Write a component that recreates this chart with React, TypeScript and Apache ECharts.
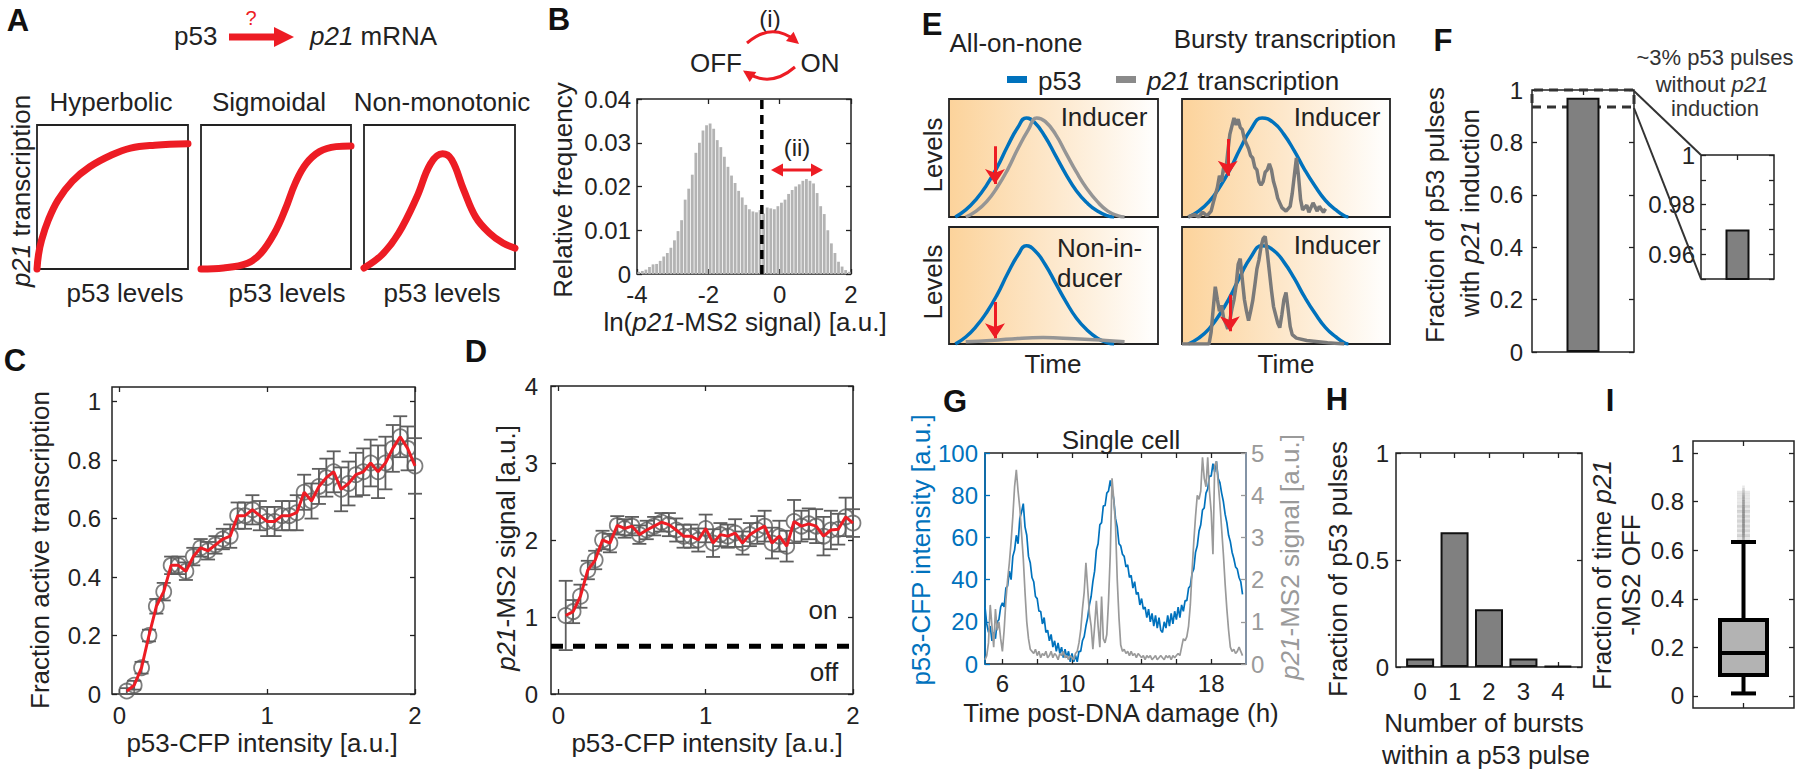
import React, { useEffect, useRef } from "react";
import * as echarts from "echarts";

// ================= DATA =================
// A: schematic dose-response curves (normalised p53 level -> p21 transcription)
const hyperbolicX = [0, 0.01, 0.03, 0.075, 0.14, 0.235, 0.35, 0.49, 0.62, 0.78, 1.0];
const hyperbolicY = [0, 0.1, 0.2, 0.34, 0.48, 0.61, 0.71, 0.79, 0.84, 0.86, 0.87];
const sigmoidalX = [0, 0.15, 0.31, 0.4, 0.49, 0.56, 0.63, 0.7, 0.79, 0.9, 1.0];
const sigmoidalY = [0, 0.007, 0.04, 0.11, 0.25, 0.41, 0.6, 0.73, 0.815, 0.85, 0.855];
const nonMonoX = [0, 0.12, 0.23, 0.35, 0.44, 0.52, 0.58, 0.66, 0.74, 0.83, 0.92, 1.0];
const nonMonoY = [0.007, 0.1, 0.25, 0.5, 0.73, 0.8, 0.76, 0.55, 0.36, 0.25, 0.18, 0.145];

// B: histogram of ln(p21-MS2 signal)
const histBinStart = -3.95;
const histBinWidth = 0.1;
const histFreq = [
  0.0005, 0.0007, 0.001, 0.0016, 0.0022, 0.0023, 0.003, 0.004, 0.0048, 0.006,
  0.0077, 0.0098, 0.0123, 0.017, 0.0195, 0.0227, 0.0277, 0.03, 0.0328, 0.034,
  0.0344, 0.0332, 0.0306, 0.029, 0.0268, 0.0245, 0.0225, 0.0208, 0.019, 0.0175,
  0.0158, 0.0148, 0.0143, 0.0141, 0.0146, 0.0138, 0.0152, 0.015, 0.0148, 0.0155,
  0.0163, 0.017, 0.0183, 0.0192, 0.02, 0.0205, 0.0213, 0.0217, 0.0213, 0.0207,
  0.0185, 0.0155, 0.0137, 0.01, 0.007, 0.0048, 0.0028, 0.0017, 0.0009, 0.0005,
];
const onOffThreshold = -0.5;

// C / D: binned p53-CFP intensity
const p53Bins = [
  0.05, 0.1, 0.15, 0.2, 0.25, 0.3, 0.35, 0.4, 0.45, 0.5,
  0.55, 0.6, 0.65, 0.7, 0.75, 0.8, 0.85, 0.9, 0.95, 1.0,
  1.05, 1.1, 1.15, 1.2, 1.25, 1.3, 1.35, 1.4, 1.45, 1.5,
  1.55, 1.6, 1.65, 1.7, 1.75, 1.8, 1.85, 1.9, 1.95, 2.0,
];
const fracActive = [
  0.01, 0.03, 0.09, 0.2, 0.3, 0.35, 0.44, 0.44, 0.42, 0.47,
  0.5, 0.49, 0.51, 0.53, 0.54, 0.61, 0.61, 0.63, 0.61, 0.59,
  0.59, 0.61, 0.61, 0.62, 0.69, 0.66, 0.71, 0.74, 0.76, 0.7,
  0.72, 0.75, 0.76, 0.79, 0.76, 0.79, 0.84, 0.88, 0.84, 0.78,
];
const fracActiveErr = [
  0.01, 0.015, 0.02, 0.02, 0.025, 0.03, 0.03, 0.03, 0.03, 0.03,
  0.03, 0.03, 0.03, 0.035, 0.04, 0.045, 0.045, 0.05, 0.05, 0.05,
  0.05, 0.05, 0.05, 0.06, 0.06, 0.06, 0.06, 0.065, 0.07, 0.075,
  0.075, 0.075, 0.08, 0.08, 0.09, 0.09, 0.08, 0.07, 0.075, 0.095,
];
const ms2Signal = [
  1.02, 1.07, 1.27, 1.61, 1.74, 2.0, 1.96, 2.19, 2.15, 2.18,
  2.07, 2.13, 2.18, 2.23, 2.2, 2.13, 2.05, 2.05, 2.0, 2.15,
  1.96, 2.07, 2.05, 2.09, 1.96, 2.07, 2.13, 2.18, 1.96, 2.05,
  1.92, 2.24, 2.18, 2.21, 2.18, 2.05, 2.13, 2.14, 2.3, 2.22,
];
const ms2SignalErr = [
  0.45, 0.15, 0.15, 0.12, 0.12, 0.12, 0.12, 0.12, 0.12, 0.12,
  0.12, 0.12, 0.12, 0.12, 0.15, 0.15, 0.15, 0.15, 0.15, 0.18,
  0.18, 0.15, 0.15, 0.18, 0.15, 0.15, 0.18, 0.2, 0.2, 0.2,
  0.2, 0.28, 0.2, 0.2, 0.22, 0.25, 0.25, 0.2, 0.25, 0.18,
];
const onThreshold = 0.62;

// E: schematic traces ([time, level] in normalised units)
const pulseAllOrNone = [
  [0.03, 0], [0.08, 0.06], [0.13, 0.15], [0.18, 0.27], [0.23, 0.42], [0.28, 0.6], [0.33, 0.76],
  [0.37, 0.84], [0.41, 0.8], [0.46, 0.68], [0.51, 0.52], [0.56, 0.36], [0.61, 0.22], [0.66, 0.12],
  [0.71, 0.05], [0.76, 0.01], [0.79, 0],
];
const p21AllOrNoneInducer = [
  [0.08, 0], [0.13, 0.05], [0.18, 0.13], [0.23, 0.25], [0.28, 0.4], [0.33, 0.58], [0.38, 0.74],
  [0.42, 0.84], [0.46, 0.81], [0.51, 0.7], [0.56, 0.54], [0.61, 0.38], [0.66, 0.24], [0.71, 0.13],
  [0.76, 0.05], [0.81, 0.01], [0.84, 0],
];
const p21AllOrNoneNonInducer = [
  [0.08, 0.02], [0.2, 0.03], [0.35, 0.05], [0.45, 0.055], [0.6, 0.045], [0.75, 0.03], [0.84, 0.02],
];
const pulseBursty = [
  [0.03, 0], [0.08, 0.05], [0.13, 0.13], [0.18, 0.25], [0.23, 0.4], [0.28, 0.58], [0.33, 0.74],
  [0.385, 0.84], [0.44, 0.8], [0.49, 0.7], [0.54, 0.56], [0.59, 0.4], [0.64, 0.26], [0.69, 0.14],
  [0.74, 0.06], [0.78, 0.01], [0.8, 0],
];
const p21BurstyA = [
  [0.03, 0], [0.06, 0.02], [0.08, 0], [0.1, 0.04], [0.12, 0.01], [0.14, 0.05], [0.15, 0.12],
  [0.17, 0.25], [0.18, 0.35], [0.19, 0.3], [0.2, 0.42], [0.21, 0.38], [0.22, 0.55], [0.23, 0.7],
  [0.25, 0.84], [0.26, 0.78], [0.27, 0.83], [0.28, 0.76], [0.29, 0.74], [0.3, 0.66], [0.31, 0.62],
  [0.32, 0.58], [0.33, 0.52], [0.34, 0.5], [0.35, 0.42], [0.36, 0.4], [0.37, 0.3], [0.38, 0.27],
  [0.39, 0.3], [0.4, 0.38], [0.41, 0.4], [0.42, 0.45], [0.43, 0.4], [0.44, 0.3], [0.45, 0.24],
  [0.46, 0.16], [0.47, 0.12], [0.48, 0.08], [0.5, 0.05], [0.52, 0.09], [0.53, 0.2], [0.54, 0.35],
  [0.55, 0.5], [0.56, 0.35], [0.57, 0.15], [0.58, 0.06], [0.6, 0.1], [0.61, 0.04], [0.63, 0.12],
  [0.65, 0.05], [0.66, 0.09], [0.68, 0.04], [0.69, 0.07],
];
const p21BurstyB = [
  [0, 0], [0.13, 0], [0.14, 0.1], [0.15, 0.3], [0.16, 0.49], [0.17, 0.38], [0.18, 0.28], [0.19, 0.33],
  [0.2, 0.22], [0.21, 0.18], [0.22, 0.13], [0.23, 0.2], [0.24, 0.3], [0.25, 0.38], [0.26, 0.5],
  [0.27, 0.68], [0.28, 0.73], [0.29, 0.55], [0.3, 0.38], [0.31, 0.28], [0.32, 0.2], [0.33, 0.28],
  [0.34, 0.37], [0.35, 0.5], [0.36, 0.64], [0.37, 0.72], [0.38, 0.83], [0.39, 0.9], [0.4, 0.92],
  [0.41, 0.78], [0.42, 0.62], [0.43, 0.46], [0.44, 0.32], [0.45, 0.25], [0.46, 0.18], [0.47, 0.14],
  [0.48, 0.25], [0.49, 0.38], [0.5, 0.44], [0.51, 0.3], [0.52, 0.15], [0.53, 0.08], [0.55, 0.05],
  [0.6, 0.03], [0.7, 0.01], [0.78, 0],
];
const arrowAllOrNoneInducer = [[0.22, 0.6], [0.22, 0.28]];
const arrowAllOrNoneNon = [[0.22, 0.36], [0.22, 0.05]];
const arrowBurstyA = [[0.22, 0.66], [0.22, 0.35]];
const arrowBurstyB = [[0.23, 0.42], [0.23, 0.11]];

// F
const fracWithInduction = 0.97;
const zoomWindow = [0.935, 1.0];

// G: single-cell traces, sampled every 0.1 h from 5 h
const gStart = 5;
const gStep = 0.1;
const p53Trace = [
  27, 19, 15, 18, 11, 15, 12, 20, 21, 27,
  29, 27, 36, 37, 44, 40, 51, 54, 61, 57,
  69, 72, 76, 65, 61, 51, 48, 41, 39, 32,
  31, 25, 25, 19, 22, 15, 16, 11, 14, 8,
  11, 6, 10, 5, 8, 3, 7, 3, 6, 1,
  5, 1, 4, 1, 6, 6, 11, 13, 18, 22,
  28, 32, 39, 44, 54, 57, 66, 67, 75, 75,
  81, 82, 87, 83, 78, 69, 65, 57, 56, 52,
  51, 46, 47, 41, 42, 36, 39, 33, 34, 28,
  31, 26, 27, 22, 26, 20, 24, 18, 23, 17,
  22, 16, 15, 20, 17, 23, 18, 24, 19, 25,
  21, 27, 22, 28, 25, 30, 30, 36, 37, 43,
  45, 53, 56, 63, 66, 73, 74, 81, 83, 89,
  89, 95, 91, 96, 88, 86, 81, 77, 71, 67,
  61, 58, 53, 50, 46, 45, 41, 39, 33,
];
const p21Trace = [
  0.1, 0.2, 0.5, 1.4, 0.9, 0.4, 1.3, 0.8, 1.0, 0.6,
  0.3, 0.8, 1.5, 2.0, 2.4, 2.9, 3.5, 4.2, 4.6, 4.1,
  3.7, 3.1, 2.5, 1.7, 1.0, 0.6, 0.35, 0.3, 0.25, 0.35,
  0.2, 0.3, 0.15, 0.25, 0.2, 0.3, 0.15, 0.2, 0.3, 0.15,
  0.25, 0.2, 0.1, 0.25, 0.2, 0.3, 0.15, 0.2, 0.1, 0.2,
  0.15, 0.1, 0.25, 0.3, 0.5, 0.8, 1.3, 1.7, 2.4, 1.8,
  1.2, 0.9, 0.35, 0.9, 1.5, 0.9, 0.4, 1.6, 0.6, 0.5,
  0.7, 1.5, 2.6, 4.4, 3.9, 3.3, 2.0, 1.1, 0.45, 0.3,
  0.35, 0.25, 0.3, 0.2, 0.3, 0.2, 0.25, 0.15, 0.25, 0.2,
  0.15, 0.2, 0.1, 0.2, 0.15, 0.2, 0.1, 0.15, 0.2, 0.1,
  0.15, 0.2, 0.15, 0.1, 0.2, 0.15, 0.2, 0.1, 0.2, 0.15,
  0.2, 0.25, 0.2, 0.4, 0.6, 0.55, 0.65, 0.9, 1.4, 2.2,
  2.9, 3.5, 4.0, 3.9, 4.1, 4.9, 4.4, 4.2, 4.9, 4.1,
  3.6, 2.6, 4.7, 4.8, 4.3, 3.8, 3.2, 2.6, 1.9, 1.3,
  0.8, 0.4, 0.3, 0.35, 0.25, 0.3, 0.4, 0.3, 0.2,
];

// H
const burstCounts = [0, 1, 2, 3, 4];
const burstFrac = [0.04, 0.63, 0.27, 0.04, 0.005];

// I: [min, Q1, median, Q3, max]
const offBox = [0.01, 0.086, 0.177, 0.313, 0.634];
const offOutliers = [
  0.64, 0.65, 0.66, 0.67, 0.68, 0.69, 0.7, 0.71, 0.72, 0.73, 0.74, 0.75, 0.76,
  0.77, 0.78, 0.79, 0.8, 0.81, 0.82, 0.83, 0.84, 0.66, 0.68, 0.7, 0.72, 0.74, 0.76, 0.78,
];

// ================= STYLE =================
const FONT = "'Liberation Sans', Arial, Helvetica, sans-serif";
const INK = "#222222";
const RED = "#ed1c24";
const BLUE = "#0072bd";
const GRAYLINE = "#9a9a9a";
const MARKER = "#5e5e5e";
const PLUS = "path://M4,0H6V4H10V6H6V10H4V6H0V4H4Z";

function buildOption() {
  const grid: any[] = [];
  const xAxis: any[] = [];
  const yAxis: any[] = [];
  const series: any[] = [];
  const elements: any[] = [];

  const tickStyle = (color = INK, extra: any = {}) => ({
    show: true, inside: true, length: 5, lineStyle: { color, width: 1.3 }, ...extra,
  });
  const labelStyle = (extra: any = {}) => ({ fontSize: 24, fontFamily: FONT, color: INK, ...extra });

  function addGrid(left: number, top: number, width: number, height: number, extra: any = {}) {
    grid.push({
      left, top, width, height, show: true, borderColor: INK, borderWidth: 1.5,
      backgroundColor: "rgba(0,0,0,0)", ...extra,
    });
    return grid.length - 1;
  }
  function addAxes(gi: number, xo: any, yo: any, mirror = { x: true, y: true }) {
    const common = { gridIndex: gi, type: "value", axisLine: { show: false, onZero: false }, splitLine: { show: false } };
    const xb: any = { ...common, axisTick: tickStyle(), axisLabel: labelStyle(), ...xo };
    const yb: any = { ...common, axisTick: tickStyle(), axisLabel: labelStyle(), ...yo };
    xAxis.push({ ...xb, position: "bottom" });
    const xi = xAxis.length - 1;
    yAxis.push({ ...yb, position: "left" });
    const yi = yAxis.length - 1;
    if (mirror.x) xAxis.push({ ...xb, position: "top", axisLabel: { ...xb.axisLabel, show: false } });
    if (mirror.y) yAxis.push({ ...yb, position: "right", axisLabel: { ...yb.axisLabel, show: false } });
    return { xi, yi };
  }
  function addHiddenAxes(gi: number) {
    xAxis.push({ gridIndex: gi, type: "value", min: 0, max: 1, show: false });
    yAxis.push({ gridIndex: gi, type: "value", min: 0, max: 1, show: false });
    return { xi: xAxis.length - 1, yi: yAxis.length - 1 };
  }
  function text(t: string, x: number, y: number, o: any = {}) {
    const fs = o.size ?? 26;
    const fill = o.color ?? INK;
    elements.push({
      type: "text", x, y, rotation: o.rot ?? 0, z: 100, silent: true,
      style: {
        text: t, fill, fontSize: fs, fontFamily: FONT, fontWeight: o.weight ?? "normal",
        align: o.align ?? "center", verticalAlign: "middle",
        rich: { i: { fontStyle: "italic", fontSize: fs, fontFamily: FONT, fill } },
      },
    });
  }
  const ROT = Math.PI / 2;
  function errorBars(xi: number, yi: number, xs: number[], ys: number[], es: number[]) {
    series.push({
      type: "custom", xAxisIndex: xi, yAxisIndex: yi, silent: true, z: 2,
      data: xs.map((x, i) => [x, ys[i] - es[i], ys[i] + es[i]]),
      encode: { x: 0, y: [1, 2] },
      renderItem: (_p: any, api: any) => {
        const lo = api.coord([api.value(0), api.value(1)]);
        const hi = api.coord([api.value(0), api.value(2)]);
        const w = 7;
        const st = { stroke: MARKER, lineWidth: 1.8 };
        return {
          type: "group",
          children: [
            { type: "line", shape: { x1: lo[0], y1: lo[1], x2: hi[0], y2: hi[1] }, style: st },
            { type: "line", shape: { x1: lo[0] - w, y1: lo[1], x2: lo[0] + w, y2: lo[1] }, style: st },
            { type: "line", shape: { x1: hi[0] - w, y1: hi[1], x2: hi[0] + w, y2: hi[1] }, style: st },
          ],
        };
      },
    });
    series.push({
      type: "scatter", xAxisIndex: xi, yAxisIndex: yi, silent: true, z: 3,
      data: xs.map((x, i) => [x, ys[i]]), symbol: "circle", symbolSize: 15,
      itemStyle: { color: "rgba(0,0,0,0)", borderColor: MARKER, borderWidth: 1.8 },
    });
    series.push({
      type: "line", xAxisIndex: xi, yAxisIndex: yi, silent: true, z: 4,
      data: xs.map((x, i) => [x, ys[i]]), symbol: "none", lineStyle: { color: RED, width: 3 },
    });
  }

  // ---------- Panel letters ----------
  const letters: [string, number, number][] = [
    ["A", 18, 20], ["B", 559, 19], ["C", 15, 360], ["D", 476, 351], ["E", 932, 24],
    ["F", 1443, 40], ["G", 955, 401], ["H", 1337, 399], ["I", 1610, 400],
  ];
  letters.forEach(([l, x, y]) => text(l, x, y, { size: 31, weight: "bold", color: "#111" }));

  // ---------- Panel A ----------
  text("p53", 174, 36, { align: "left" });
  text("{i|p21} mRNA", 310, 36, { align: "left" });
  text("?", 251, 18, { size: 20, color: RED });
  elements.push({ type: "line", z: 100, shape: { x1: 229, y1: 37, x2: 276, y2: 37 }, style: { stroke: RED, lineWidth: 7 } });
  elements.push({ type: "polygon", z: 100, shape: { points: [[274, 27], [294, 37], [274, 47]] }, style: { fill: RED } });
  const aRects = [[37, 125, 151, 144], [201, 125, 150, 144], [364, 125, 151, 144]];
  const aX = [hyperbolicX, sigmoidalX, nonMonoX];
  const aY = [hyperbolicY, sigmoidalY, nonMonoY];
  aRects.forEach((r, k) => {
    const gi = addGrid(r[0], r[1], r[2], r[3], { borderWidth: 1.8 });
    const { xi, yi } = addHiddenAxes(gi);
    series.push({
      type: "line", xAxisIndex: xi, yAxisIndex: yi, silent: true, z: 3, clip: false,
      data: aX[k].map((x, i) => [x, aY[k][i]]), smooth: 0.4, symbol: "none",
      lineStyle: { color: RED, width: 7, cap: "round" },
    });
  });
  text("Hyperbolic", 111, 102);
  text("Sigmoidal", 269, 102);
  text("Non-monotonic", 442, 102);
  text("p53 levels", 125, 293);
  text("p53 levels", 287, 293);
  text("p53 levels", 442, 293);
  text("{i|p21} transcription", 21, 191, { rot: ROT });

  // ---------- Panel B ----------
  {
    const gi = addGrid(637, 99, 214, 175);
    const { xi, yi } = addAxes(
      gi,
      { min: -4, max: 2, interval: 2, axisLabel: labelStyle({ margin: 8 }) },
      { min: 0, max: 0.04, interval: 0.01, axisLabel: labelStyle({ margin: 6 }) }
    );
    series.push({
      type: "bar", xAxisIndex: xi, yAxisIndex: yi, silent: true, z: 2,
      data: histFreq.map((v, i) => [histBinStart + i * histBinWidth, v]),
      barWidth: 2.8, itemStyle: { color: "#b3b3b3" },
    });
    series.push({
      type: "line", xAxisIndex: xi, yAxisIndex: yi, silent: true, z: 4,
      data: [[onOffThreshold, 0], [onOffThreshold, 0.04]], symbol: "none",
      lineStyle: { color: "#000", width: 3.5, type: [9, 6] },
    });
  }
  text("(i)", 770, 18, { size: 24 });
  text("OFF", 716, 63);
  text("ON", 820, 63);
  elements.push({ type: "bezierCurve", z: 100, shape: { x1: 747, y1: 43, x2: 796, y2: 41, cpx1: 772, cpy1: 21.5 }, style: { stroke: RED, lineWidth: 3, fill: null } });
  elements.push({ type: "polygon", z: 100, shape: { points: [[799, 44], [786, 41], [793.6, 31.8]] }, style: { fill: RED } });
  elements.push({ type: "bezierCurve", z: 100, shape: { x1: 795, y1: 67, x2: 746, y2: 72, cpx1: 770, cpy1: 88.5 }, style: { stroke: RED, lineWidth: 3, fill: null } });
  elements.push({ type: "polygon", z: 100, shape: { points: [[743, 70.5], [756.3, 72.1], [749.7, 82.1]] }, style: { fill: RED } });
  text("(ii)", 797, 147, { size: 24 });
  elements.push({ type: "line", z: 100, shape: { x1: 779, y1: 170, x2: 815, y2: 170 }, style: { stroke: RED, lineWidth: 3 } });
  elements.push({ type: "polygon", z: 100, shape: { points: [[771, 170], [783, 163.5], [783, 176.5]] }, style: { fill: RED } });
  elements.push({ type: "polygon", z: 100, shape: { points: [[823, 170], [811, 163.5], [811, 176.5]] }, style: { fill: RED } });
  text("Relative frequency", 563, 190, { rot: ROT });
  text("ln({i|p21}-MS2 signal) [a.u.]", 745, 322);

  // ---------- Panel C ----------
  const yTicks01 = [0, 0.2, 0.4, 0.6, 0.8, 1];
  {
    const gi = addGrid(112, 387, 303, 307);
    const { xi, yi } = addAxes(
      gi,
      { min: -0.05, max: 2, axisLabel: labelStyle({ customValues: [0, 1, 2], margin: 9 }), axisTick: tickStyle(INK, { customValues: [0, 1, 2] }) },
      { min: 0, max: 1.05, axisLabel: labelStyle({ customValues: yTicks01, margin: 11 }), axisTick: tickStyle(INK, { customValues: yTicks01 }) }
    );
    errorBars(xi, yi, p53Bins, fracActive, fracActiveErr);
  }
  text("Fraction active transcription", 40, 550, { rot: ROT });
  text("p53-CFP intensity [a.u.]", 262, 743);

  // ---------- Panel D ----------
  {
    const gi = addGrid(551, 386, 302, 308);
    const { xi, yi } = addAxes(
      gi,
      { min: -0.05, max: 2, axisLabel: labelStyle({ customValues: [0, 1, 2], margin: 9 }), axisTick: tickStyle(INK, { customValues: [0, 1, 2] }) },
      { min: 0, max: 4, interval: 1, axisLabel: labelStyle({ margin: 13 }) }
    );
    errorBars(xi, yi, p53Bins, ms2Signal, ms2SignalErr);
    series.push({
      type: "line", xAxisIndex: xi, yAxisIndex: yi, silent: true, z: 5,
      data: [[-0.05, onThreshold], [2, onThreshold]], symbol: "none",
      lineStyle: { color: "#000", width: 5, type: [12, 10] },
    });
  }
  text("on", 823, 610);
  text("off", 824, 672);
  text("{i|p21}-MS2 signal [a.u.]", 506, 548, { rot: ROT });
  text("p53-CFP intensity [a.u.]", 707, 743);

  // ---------- Panel E ----------
  const eGrad = {
    type: "linear", x: 0, y: 0, x2: 1, y2: 0,
    colorStops: [
      { offset: 0, color: "#fcd39b" },
      { offset: 0.5, color: "#fde8cc" },
      { offset: 1, color: "#ffffff" },
    ],
  };
  const eBoxes: any[] = [
    { r: [949, 99, 209, 118], blue: pulseAllOrNone, gray: p21AllOrNoneInducer, smoothGray: true, grayColor: "#959595", arrow: arrowAllOrNoneInducer },
    { r: [1182, 99, 208, 118], blue: pulseBursty, gray: p21BurstyA, smoothGray: false, grayColor: "#7a7a7a", arrow: arrowBurstyA },
    { r: [949, 227, 209, 117], blue: pulseAllOrNone, gray: p21AllOrNoneNonInducer, smoothGray: true, grayColor: "#959595", arrow: arrowAllOrNoneNon },
    { r: [1182, 227, 208, 117], blue: pulseBursty, gray: p21BurstyB, smoothGray: false, grayColor: "#7a7a7a", arrow: arrowBurstyB },
  ];
  eBoxes.forEach((b) => {
    const gi = addGrid(b.r[0], b.r[1], b.r[2], b.r[3], { backgroundColor: eGrad, borderWidth: 1.8 });
    const { xi, yi } = addHiddenAxes(gi);
    series.push({
      type: "line", xAxisIndex: xi, yAxisIndex: yi, silent: true, z: 3, data: b.blue,
      smooth: 0.5, symbol: "none", lineStyle: { color: BLUE, width: 3.5 },
    });
    series.push({
      type: "line", xAxisIndex: xi, yAxisIndex: yi, silent: true, z: 4, data: b.gray,
      smooth: b.smoothGray ? 0.5 : false, symbol: "none", lineStyle: { color: b.grayColor, width: 3.5 },
    });
    series.push({
      type: "lines", coordinateSystem: "cartesian2d", xAxisIndex: xi, yAxisIndex: yi, silent: true, z: 6,
      data: [{ coords: b.arrow }], symbol: ["none", "arrow"], symbolSize: 15,
      lineStyle: { color: RED, width: 3, opacity: 1 },
    });
  });
  text("All-on-none", 1016, 43);
  text("Bursty transcription", 1285, 39);
  elements.push({ type: "rect", z: 100, shape: { x: 1007, y: 76, width: 20, height: 7 }, style: { fill: BLUE } });
  text("p53", 1038, 81, { align: "left" });
  elements.push({ type: "rect", z: 100, shape: { x: 1116, y: 76, width: 20, height: 7 }, style: { fill: "#8a8a8a" } });
  text("{i|p21} transcription", 1147, 81, { align: "left" });
  text("Levels", 933, 155, { rot: ROT });
  text("Levels", 933, 282, { rot: ROT });
  text("Time", 1053, 364);
  text("Time", 1286, 364);
  text("Inducer", 1104, 117);
  text("Inducer", 1337, 117);
  text("Inducer", 1337, 245);
  text("Non-in-", 1057, 248, { align: "left" });
  text("ducer", 1057, 278, { align: "left" });

  // ---------- Panel F ----------
  {
    const gi = addGrid(1532, 90, 102, 262);
    const { xi, yi } = addAxes(
      gi,
      { type: "category", data: [""], axisTick: tickStyle(INK, { alignWithLabel: true }), axisLabel: labelStyle({ show: false }) },
      { min: 0, max: 1, interval: 0.2, axisLabel: labelStyle({ margin: 9 }) }
    );
    series.push({
      type: "bar", xAxisIndex: xi, yAxisIndex: yi, silent: true, z: 2,
      data: [fracWithInduction], barWidth: 33,
      itemStyle: { color: "#808080", borderColor: "#111", borderWidth: 2 },
      markArea: {
        silent: true,
        itemStyle: { color: "rgba(0,0,0,0)", borderColor: "#333", borderWidth: 3, borderType: [9, 6] },
        data: [[{ yAxis: zoomWindow[0] }, { yAxis: zoomWindow[1] }]],
      },
    });
  }
  {
    const gi = addGrid(1701, 155, 73, 124);
    const { xi, yi } = addAxes(
      gi,
      { type: "category", data: [""], axisTick: tickStyle(INK, { alignWithLabel: true }), axisLabel: labelStyle({ show: false }) },
      {
        min: 0.95, max: 1.0, interval: 0.01,
        axisLabel: labelStyle({
          margin: 6,
          formatter: (v: number) => {
            const r = Math.round(v * 100);
            return r === 96 ? "0.96" : r === 98 ? "0.98" : r === 100 ? "1" : "";
          },
        }),
      }
    );
    series.push({
      type: "bar", xAxisIndex: xi, yAxisIndex: yi, silent: true, z: 2,
      data: [fracWithInduction], barWidth: 24,
      itemStyle: { color: "#808080", borderColor: "#111", borderWidth: 2 },
    });
  }
  elements.push({ type: "line", z: 90, shape: { x1: 1634, y1: 91, x2: 1701, y2: 155 }, style: { stroke: "#333", lineWidth: 2 } });
  elements.push({ type: "line", z: 90, shape: { x1: 1634, y1: 108, x2: 1701, y2: 279 }, style: { stroke: "#333", lineWidth: 2 } });
  text("~3% p53 pulses", 1715, 57, { size: 22, color: "#333" });
  text("without {i|p21}", 1712, 84, { size: 22, color: "#333" });
  text("induction", 1715, 108, { size: 22, color: "#333" });
  text("Fraction of p53 pulses", 1435, 215, { rot: ROT });
  text("with {i|p21} induction", 1470, 213, { rot: ROT });

  // ---------- Panel G ----------
  {
    const gi = addGrid(985, 453, 261, 211);
    const xb: any = {
      gridIndex: gi, type: "value", min: 5, max: 20,
      axisLine: { show: false, onZero: false }, splitLine: { show: false },
      axisTick: tickStyle(INK, { customValues: [6, 8, 10, 12, 14, 16, 18] }),
      axisLabel: labelStyle({ customValues: [6, 10, 14, 18], margin: 7 }),
    };
    xAxis.push({ ...xb, position: "bottom" });
    const xi = xAxis.length - 1;
    xAxis.push({ ...xb, position: "top", axisLabel: { show: false } });
    yAxis.push({
      gridIndex: gi, type: "value", min: 0, max: 100, interval: 20, position: "left",
      axisLine: { show: true, onZero: false, lineStyle: { color: BLUE, width: 1.6 } },
      axisTick: tickStyle(BLUE), axisLabel: labelStyle({ color: BLUE, margin: 7 }), splitLine: { show: false },
    });
    const yl = yAxis.length - 1;
    yAxis.push({
      gridIndex: gi, type: "value", min: 0, max: 5, interval: 1, position: "right",
      axisLine: { show: true, onZero: false, lineStyle: { color: "#8fa3ba", width: 1.6 } },
      axisTick: tickStyle("#9a9a9a"), axisLabel: labelStyle({ color: "#9a9a9a", margin: 5 }), splitLine: { show: false },
    });
    const yr = yAxis.length - 1;
    series.push({
      type: "line", xAxisIndex: xi, yAxisIndex: yl, silent: true, z: 3,
      data: p53Trace.map((v, i) => [gStart + i * gStep, v]), symbol: "none",
      lineStyle: { color: BLUE, width: 1.7 },
    });
    series.push({
      type: "line", xAxisIndex: xi, yAxisIndex: yr, silent: true, z: 4,
      data: p21Trace.map((v, i) => [gStart + i * gStep, v]), symbol: "none",
      lineStyle: { color: GRAYLINE, width: 1.7 },
    });
  }
  text("Single cell", 1121, 440);
  text("p53-CFP intensity [a.u.]", 921, 550, { rot: ROT, color: BLUE });
  text("{i|p21}-MS2 signal [a.u.]", 1290, 557, { rot: ROT, color: "#9a9a9a" });
  text("Time post-DNA damage (h)", 1121, 713);

  // ---------- Panel H ----------
  {
    const gi = addGrid(1396, 453, 186, 214);
    const { xi, yi } = addAxes(
      gi,
      { min: -0.7, max: 4.7, axisLabel: labelStyle({ customValues: burstCounts, margin: 12 }), axisTick: tickStyle(INK, { customValues: burstCounts }) },
      { min: 0, max: 1, interval: 0.5, axisLabel: labelStyle({ margin: 7 }) }
    );
    series.push({
      type: "bar", xAxisIndex: xi, yAxisIndex: yi, silent: true, z: 2,
      data: burstCounts.map((c, i) => [c, burstFrac[i]]), barWidth: 28,
      itemStyle: { color: "#808080", borderColor: "#111", borderWidth: 2 },
    });
  }
  text("Fraction of p53 pulses", 1338, 569, { rot: ROT });
  text("Number of bursts", 1484, 723);
  text("within a p53 pulse", 1486, 755);

  // ---------- Panel I ----------
  {
    const gi = addGrid(1693, 441, 101, 267);
    const { xi, yi } = addAxes(
      gi,
      { type: "category", data: [""], axisTick: tickStyle(INK, { alignWithLabel: true }), axisLabel: labelStyle({ show: false }) },
      { min: -0.05, max: 1.05, axisLabel: labelStyle({ customValues: yTicks01, margin: 9 }), axisTick: tickStyle(INK, { customValues: yTicks01 }) }
    );
    series.push({
      type: "scatter", xAxisIndex: xi, yAxisIndex: yi, silent: true, z: 2,
      data: offOutliers.map((v) => [0, v]), symbol: PLUS, symbolSize: 13,
      itemStyle: { color: "rgba(110,110,110,0.2)" },
    });
    series.push({
      type: "custom", xAxisIndex: xi, yAxisIndex: yi, silent: true, z: 3,
      data: [[0, ...offBox]], encode: { x: 0, y: [1, 2, 3, 4, 5] },
      renderItem: (_p: any, api: any) => {
        const x = api.value(0);
        const c = (k: number) => api.coord([x, api.value(k)]);
        const pMin = c(1), pQ1 = c(2), pMed = c(3), pQ3 = c(4), pMax = c(5);
        const hw = 23.5, cw = 12.5;
        const st = { stroke: "#000", lineWidth: 4 };
        return {
          type: "group",
          children: [
            { type: "line", shape: { x1: pMin[0], y1: pMin[1], x2: pQ1[0], y2: pQ1[1] }, style: st },
            { type: "line", shape: { x1: pQ3[0], y1: pQ3[1], x2: pMax[0], y2: pMax[1] }, style: st },
            { type: "line", shape: { x1: pMin[0] - cw, y1: pMin[1], x2: pMin[0] + cw, y2: pMin[1] }, style: st },
            { type: "line", shape: { x1: pMax[0] - cw, y1: pMax[1], x2: pMax[0] + cw, y2: pMax[1] }, style: st },
            { type: "rect", shape: { x: pQ1[0] - hw, y: pQ3[1], width: 2 * hw, height: pQ1[1] - pQ3[1] }, style: { fill: "#b3b3b3", stroke: "#000", lineWidth: 4 } },
            { type: "line", shape: { x1: pMed[0] - hw, y1: pMed[1], x2: pMed[0] + hw, y2: pMed[1] }, style: st },
          ],
        };
      },
    });
  }
  text("Fraction of time {i|p21}", 1602, 575, { rot: ROT });
  text("-MS2 OFF", 1631, 575, { rot: ROT });

  return {
    animation: false,
    backgroundColor: "#ffffff",
    textStyle: { fontFamily: FONT },
    grid, xAxis, yAxis, series,
    graphic: { elements },
  };
}

export default function App() {
  const ref = useRef<HTMLDivElement>(null);
  useEffect(() => {
    if (!ref.current) return;
    const chart = echarts.init(ref.current, undefined, { renderer: "svg" });
    chart.setOption(buildOption() as any);
    return () => chart.dispose();
  }, []);
  return (
    <div
      ref={ref}
      style={{ position: "fixed", left: 0, top: 0, width: 1800, height: 773, background: "#fff" }}
    />
  );
}
